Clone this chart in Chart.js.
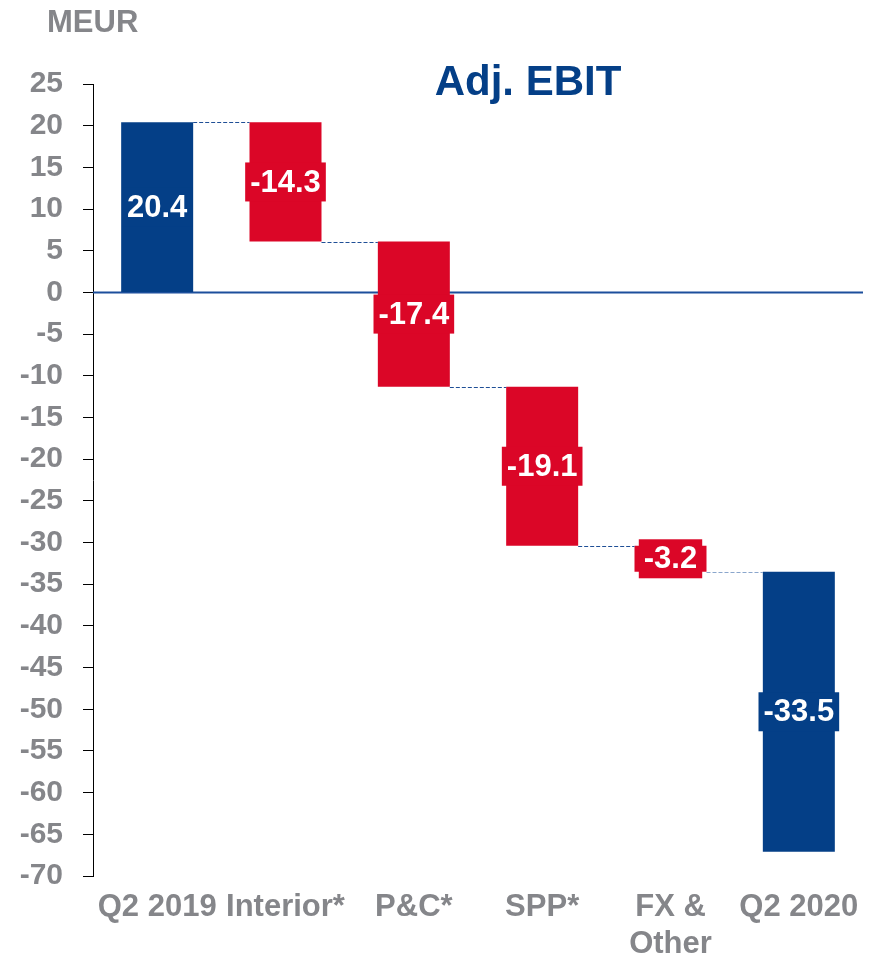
<!DOCTYPE html>
<html>
<head>
<meta charset="utf-8">
<script src="https://cdn.jsdelivr.net/npm/chart.js@4"></script>
<style>
  html, body { margin: 0; padding: 0; background: #ffffff; }
  #wrap { width: 876px; height: 960px; }
</style>
</head>
<body>
<div id="wrap"><canvas id="c" width="876" height="960"></canvas></div>
<script>
// ---- data ----
const categories = ['Q2 2019', 'Interior*', 'P&C*', 'SPP*', ['FX &', 'Other'], 'Q2 2020'];
const barStart = [0, 20.4, 6.1, -11.3, -30.4, -33.5];
const barEnd   = [20.4, 6.1, -11.3, -30.4, -33.5, -67.1];
const labelValues = ['20.4', '-14.3', '-17.4', '-19.1', '-3.2', '-33.5'];
const connectorLevels = [20.4, 6.1, -11.3, -30.4, -33.5];
const yTickMin = -70, yTickMax = 25, yTickStep = 5;

// ---- styles ----
const BLUE = '#043f87';
const RED = '#db0627';
const GREY = '#85868a';
const FONT = "'Liberation Sans', Arial, sans-serif";
const barColors = [BLUE, RED, RED, RED, RED, BLUE];
const connectorColors = ['#1f4f96', '#1f4f96', '#1f4f96', '#1f4f96', '#8aa6cc'];

const extrasPlugin = {
  id: 'extras',
  beforeDatasetsDraw(chart) {
    const ctx = chart.ctx, y = chart.scales.y, a = chart.chartArea;
    const py = y.getPixelForValue(0);
    ctx.save();
    ctx.strokeStyle = '#1c4f9c';
    ctx.lineWidth = 2;
    ctx.beginPath();
    ctx.moveTo(a.left, py);
    ctx.lineTo(a.right, py);
    ctx.stroke();
    ctx.restore();
  },
  afterDatasetsDraw(chart) {
    const ctx = chart.ctx, ys = chart.scales.y;
    const meta = chart.getDatasetMeta(0);
    ctx.save();
    // connectors
    ctx.lineWidth = 1.2;
    ctx.setLineDash([4, 2]);
    for (let i = 0; i < connectorLevels.length; i++) {
      const b0 = meta.data[i], b1 = meta.data[i + 1];
      const py = Math.round(ys.getPixelForValue(connectorLevels[i])) + 0.5;
      ctx.strokeStyle = connectorColors[i];
      ctx.beginPath();
      ctx.moveTo(b0.x + b0.width / 2, py);
      ctx.lineTo(b1.x - b1.width / 2, py);
      ctx.stroke();
    }
    ctx.setLineDash([]);
    // value labels with boxes
    ctx.font = 'bold 31px ' + FONT;
    ctx.textAlign = 'center';
    ctx.textBaseline = 'middle';
    meta.data.forEach((bar, i) => {
      const cy = (bar.y + bar.base) / 2;
      const txt = labelValues[i];
      const w = ctx.measureText(txt).width + 10;
      const h = 39;
      ctx.fillStyle = barColors[i];
      ctx.fillRect(bar.x - w / 2, cy - h / 2, w, h);
      ctx.fillStyle = '#ffffff';
      ctx.fillText(txt, bar.x, cy + 1);
    });
    ctx.restore();
  },
  afterDraw(chart) {
    const ctx = chart.ctx;
    ctx.save();
    ctx.textBaseline = 'alphabetic';
    ctx.fillStyle = GREY;
    ctx.font = 'bold 31px ' + FONT;
    ctx.textAlign = 'left';
    ctx.fillText('MEUR', 47, 32);
    ctx.fillStyle = BLUE;
    ctx.font = 'bold 42px ' + FONT;
    ctx.textAlign = 'center';
    ctx.fillText('Adj. EBIT', 528, 95);
    ctx.restore();
  }
};

new Chart(document.getElementById('c'), {
  type: 'bar',
  data: {
    labels: categories,
    datasets: [{
      data: barStart.map((s, i) => [s, barEnd[i]]),
      backgroundColor: barColors,
      borderWidth: 0,
      barPercentage: 0.561,
      categoryPercentage: 1.0
    }]
  },
  options: {
    responsive: false,
    animation: false,
    devicePixelRatio: 1,
    layout: { padding: { top: 84, right: 13, left: 0, bottom: 0 } },
    plugins: { legend: { display: false }, tooltip: { enabled: false }, title: { display: false } },
    scales: {
      x: {
        grid: { display: false, drawTicks: false },
        border: { display: false },
        ticks: {
          color: GREY,
          font: { family: FONT, size: 31, weight: 'bold', lineHeight: 1.2 },
          padding: 13,
          maxRotation: 0,
          autoSkip: false
        },
        afterFit(scale) { scale.height = 84; }
      },
      y: {
        min: yTickMin,
        max: yTickMax,
        grid: { drawOnChartArea: false, drawTicks: true, tickLength: 10, color: '#000000', lineWidth: 1 },
        border: { display: true, color: '#000000', width: 1 },
        ticks: {
          stepSize: yTickStep,
          color: GREY,
          padding: 20,
          font: { family: FONT, size: 30, weight: 'bold' }
        },
        afterFit(scale) { scale.width = 93; }
      }
    }
  },
  plugins: [extrasPlugin]
});
</script>
</body>
</html>
